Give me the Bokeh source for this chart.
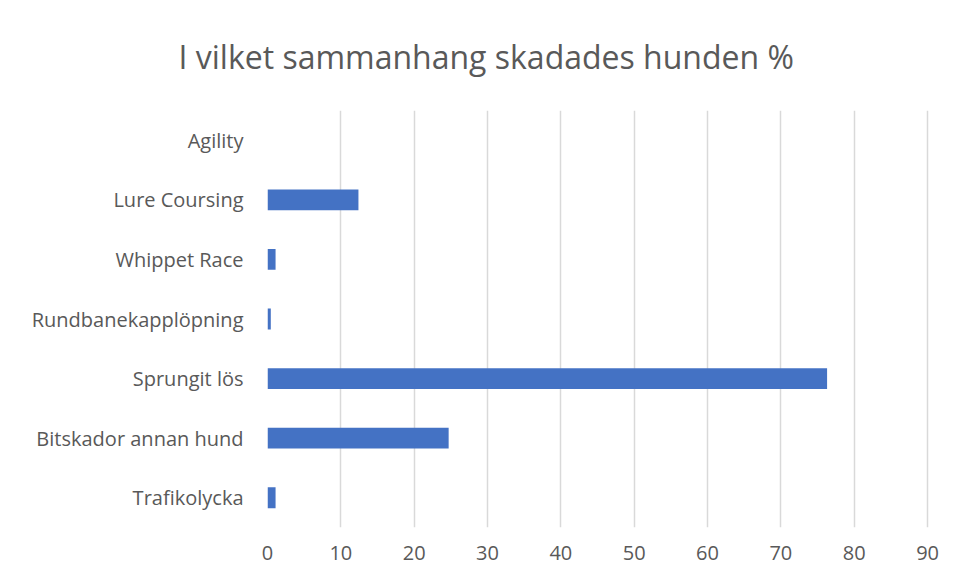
from bokeh.plotting import figure
from bokeh.models import FactorRange, Range1d, FixedTicker, Title
from bokeh.embed import file_html
from bokeh.resources import INLINE

categories = ["Agility", "Lure Coursing", "Whippet Race", "Rundbanekapplöpning",
              "Sprungit lös", "Bitskador annan hund", "Trafikolycka"]
values = [0.0, 12.4, 1.1, 0.45, 76.3, 24.7, 1.1]
x_ticks = [0, 10, 20, 30, 40, 50, 60, 70, 80, 90]
title_text = "I vilket sammanhang skadades hunden %"

FONT = "Open Sans"
TXT = "#595959"

factors = list(reversed(categories))
p = figure(width=949, height=573, output_backend="svg", toolbar_location=None,
           y_range=FactorRange(factors=factors, range_padding=0),
           x_range=Range1d(0, 90.4),
           min_border_left=267, min_border_right=19, min_border_top=38, min_border_bottom=46)
p.title = None
p.add_layout(Title(text=title_text, align="left", offset=-89, text_font=FONT,
                   text_font_size="32px", text_font_style="normal", text_color=TXT,
                   standoff=65), "above")

p.hbar(y=categories, right=values, left=0, height=0.35, fill_color="#4472C4", line_color=None)

p.xaxis.ticker = FixedTicker(ticks=x_ticks)
p.xaxis.axis_line_color = None
p.xaxis.major_tick_line_color = None
p.xaxis.minor_tick_line_color = None
p.xaxis.major_label_text_font = FONT
p.xaxis.major_label_text_font_size = "20px"
p.xaxis.major_label_text_color = TXT
p.xaxis.major_label_standoff = 12

p.yaxis.axis_line_color = None
p.yaxis.major_tick_line_color = None
p.yaxis.minor_tick_line_color = None
p.yaxis.major_label_text_font = FONT
p.yaxis.major_label_text_font_size = "20px"
p.yaxis.major_label_text_color = TXT
p.yaxis.major_label_standoff = 18

p.ygrid.grid_line_color = None
p.xgrid.grid_line_color = "#d9d9d9"
p.xgrid.grid_line_width = 1.5
p.outline_line_color = None
p.background_fill_color = "white"
p.border_fill_color = "white"

open("out.html", "w").write(file_html(p, INLINE))
